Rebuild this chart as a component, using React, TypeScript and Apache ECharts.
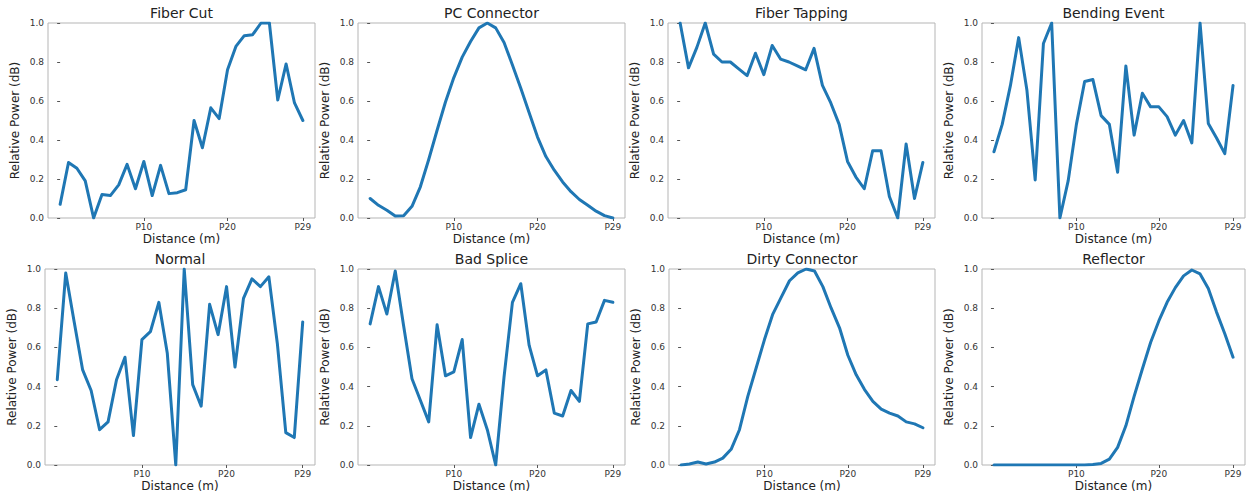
import React, { useEffect, useRef } from "react";
import * as echarts from "echarts";

const titles = ["Fiber Cut", "PC Connector", "Fiber Tapping", "Bending Event", "Normal", "Bad Splice", "Dirty Connector", "Reflector"];
const xTickValues = [10, 20, 29];
const yTickLabels = ["0.0", "0.2", "0.4", "0.6", "0.8", "1.0"];

const fiberCut = [0.07, 0.285, 0.255, 0.19, 0.0, 0.12, 0.115, 0.17, 0.275, 0.15, 0.29, 0.115, 0.27, 0.125, 0.13, 0.145, 0.5, 0.36, 0.565, 0.51, 0.76, 0.88, 0.935, 0.94, 1.0, 1.0, 0.605, 0.79, 0.59, 0.5];
const pcConnector = [0.1, 0.065, 0.04, 0.01, 0.012, 0.06, 0.16, 0.3, 0.45, 0.595, 0.72, 0.825, 0.905, 0.975, 1.0, 0.975, 0.9, 0.785, 0.665, 0.54, 0.415, 0.315, 0.245, 0.185, 0.135, 0.095, 0.065, 0.035, 0.012, 0.0];
const fiberTapping = [1.0, 0.77, 0.875, 1.0, 0.84, 0.8, 0.8, 0.765, 0.73, 0.845, 0.735, 0.885, 0.815, 0.8, 0.78, 0.76, 0.87, 0.68, 0.59, 0.48, 0.29, 0.21, 0.15, 0.345, 0.345, 0.11, 0.0, 0.38, 0.1, 0.285];
const bendingEvent = [0.34, 0.48, 0.68, 0.925, 0.655, 0.195, 0.895, 1.0, 0.0, 0.19, 0.48, 0.7, 0.71, 0.525, 0.48, 0.235, 0.78, 0.425, 0.64, 0.57, 0.57, 0.52, 0.425, 0.5, 0.385, 1.0, 0.485, 0.41, 0.33, 0.68];
const normal = [0.435, 0.98, 0.73, 0.485, 0.38, 0.18, 0.22, 0.435, 0.55, 0.15, 0.64, 0.68, 0.83, 0.57, 0.0, 1.0, 0.41, 0.3, 0.82, 0.665, 0.91, 0.5, 0.85, 0.95, 0.91, 0.96, 0.62, 0.165, 0.14, 0.73];
const badSplice = [0.72, 0.91, 0.77, 0.99, 0.71, 0.44, 0.33, 0.22, 0.715, 0.455, 0.475, 0.64, 0.14, 0.31, 0.18, 0.0, 0.45, 0.83, 0.925, 0.61, 0.455, 0.485, 0.265, 0.25, 0.38, 0.325, 0.72, 0.73, 0.84, 0.83];
const dirtyConnector = [0.0, 0.005, 0.015, 0.005, 0.015, 0.035, 0.08, 0.18, 0.35, 0.495, 0.64, 0.77, 0.855, 0.94, 0.98, 1.0, 0.99, 0.91, 0.8, 0.7, 0.56, 0.46, 0.385, 0.325, 0.285, 0.265, 0.25, 0.22, 0.21, 0.19];
const reflector = [0.0, 0.0, 0.0, 0.0, 0.0, 0.0, 0.0, 0.0, 0.0, 0.0, 0.0, 0.0, 0.002, 0.008, 0.03, 0.09, 0.2, 0.35, 0.49, 0.625, 0.735, 0.83, 0.905, 0.965, 0.995, 0.975, 0.9, 0.78, 0.67, 0.55];

const allSeries = [fiberCut, pcConnector, fiberTapping, bendingEvent, normal, badSplice, dirtyConnector, reflector];

const gridBoxes = [
  { left: 48, top: 23, width: 267, height: 195 },
  { left: 358, top: 23, width: 267, height: 195 },
  { left: 668, top: 23, width: 267, height: 195 },
  { left: 982, top: 23, width: 263, height: 195 },
  { left: 45, top: 269, width: 270, height: 196 },
  { left: 358, top: 269, width: 267, height: 196 },
  { left: 669, top: 269, width: 266, height: 196 },
  { left: 982, top: 269, width: 263, height: 196 },
];

const FONT = "DejaVu Sans";

export default function App() {
  const ref = useRef<HTMLDivElement>(null);
  useEffect(() => {
    document.body.style.margin = "0";
    if (!ref.current) return;
    const chart = echarts.init(ref.current, undefined, { renderer: "svg" });
    const option: any = {
      animation: false,
      backgroundColor: "#ffffff",
      title: gridBoxes.map((g, i) => ({
        text: titles[i],
        left: g.left + g.width / 2,
        top: g.top - 17,
        textAlign: "center",
        padding: 0,
        textStyle: { fontFamily: FONT, fontSize: 14, fontWeight: "normal", color: "#222" },
      })),
      grid: gridBoxes.map((g) => ({
        ...g,
        show: true,
        borderColor: "#b5b5b5",
        borderWidth: 1,
        backgroundColor: "transparent",
        containLabel: false,
      })),
      xAxis: gridBoxes.map((g, i) => ({
        type: "value",
        gridIndex: i,
        min: -1.45,
        max: 30.45,
        name: "Distance (m)",
        nameLocation: "middle",
        nameGap: 15,
        nameTextStyle: { fontFamily: FONT, fontSize: 12, color: "#222" },
        axisLine: { show: false },
        splitLine: { show: false },
        axisTick: { show: true, length: 3, lineStyle: { color: "#555" }, customValues: xTickValues },
        axisLabel: {
          fontFamily: FONT,
          fontSize: 9,
          color: "#333",
          margin: 4,
          customValues: xTickValues,
          formatter: (v: number) => "P" + v,
        },
      })),
      yAxis: gridBoxes.map((g, i) => ({
        type: "value",
        gridIndex: i,
        min: 0,
        max: 1,
        interval: 0.2,
        name: "Relative Power (dB)",
        nameLocation: "middle",
        nameGap: 27,
        nameTextStyle: { fontFamily: FONT, fontSize: 12, color: "#222" },
        axisLine: { show: false },
        splitLine: { show: false },
        axisTick: { show: true, length: 3, lineStyle: { color: "#555" } },
        axisLabel: {
          fontFamily: FONT,
          fontSize: 9,
          color: "#333",
          margin: 4,
          formatter: (v: number) => yTickLabels[Math.round(v * 5)] ?? v.toFixed(1),
        },
      })),
      series: allSeries.map((arr, i) => ({
        type: "line",
        xAxisIndex: i,
        yAxisIndex: i,
        data: arr.map((v, k) => [k, v]),
        showSymbol: false,
        symbol: "none",
        clip: true,
        lineStyle: { color: "#1f77b4", width: 3, join: "round", cap: "round" },
        itemStyle: { color: "#1f77b4" },
      })),
    };
    chart.setOption(option);
    return () => chart.dispose();
  }, []);
  return <div ref={ref} style={{ width: 1252, height: 500 }} />;
}
